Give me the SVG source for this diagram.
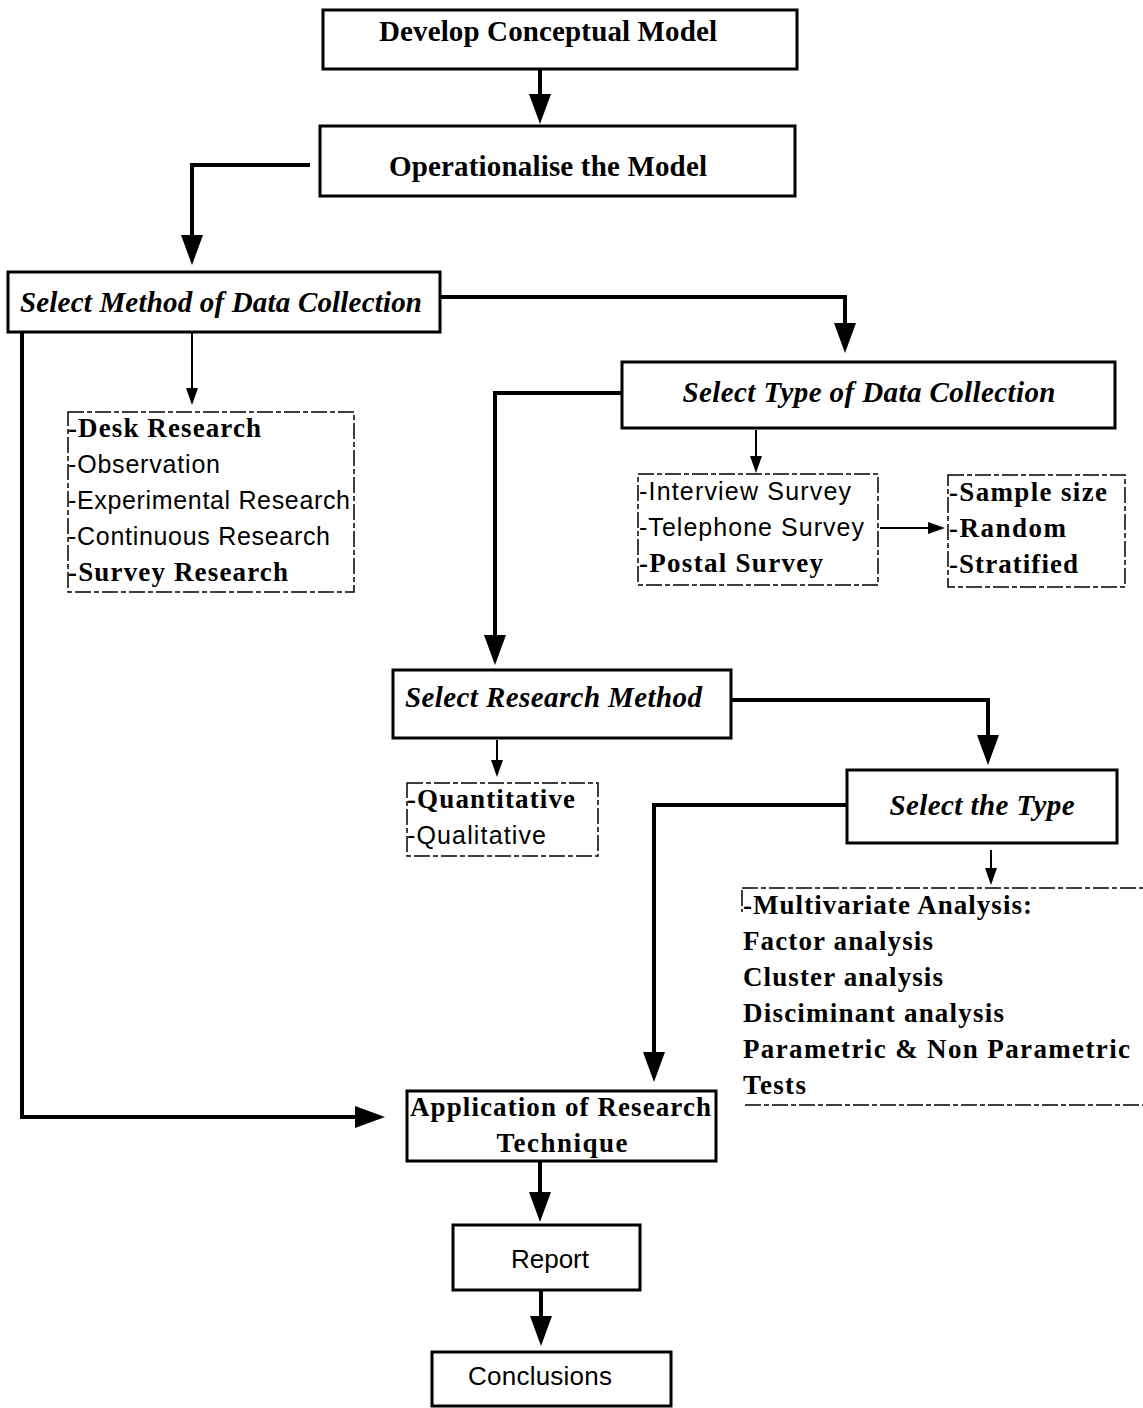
<svg xmlns="http://www.w3.org/2000/svg" width="1143" height="1408" viewBox="0 0 1143 1408">
  <style>
    .box { fill: #fff; stroke: #000; stroke-width: 3; }
    .dbox { fill: none; stroke: #000; stroke-width: 1.5; stroke-dasharray: 16 3 5 3; }
    .line { fill: none; stroke: #000; stroke-width: 4; stroke-linejoin: miter; }
    .thin { fill: none; stroke: #000; stroke-width: 2; }
    .head { font-family: "Liberation Serif", "Times New Roman", serif; font-weight: bold; font-size: 29px; fill: #000; }
    .ital { font-family: "Liberation Serif", "Times New Roman", serif; font-weight: bold; font-style: italic; font-size: 29px; fill: #000; }
    .sb { font-family: "Liberation Serif", "Times New Roman", serif; font-weight: bold; font-size: 27px; fill: #000; }
    .ss { font-family: "Liberation Sans", Arial, sans-serif; font-size: 25px; fill: #000; }
    .plain { font-family: "Liberation Sans", Arial, sans-serif; font-size: 26px; fill: #000; }
  </style>
  <defs>
    <marker id="big" markerUnits="userSpaceOnUse" markerWidth="32" markerHeight="24" viewBox="0 -12 32 24" refX="0" refY="0" orient="auto">
      <path d="M0,-11 L30,0 L0,11 Z" fill="#000"/>
    </marker>
    <marker id="small" markerUnits="userSpaceOnUse" markerWidth="20" markerHeight="14" viewBox="0 -7 20 14" refX="0" refY="0" orient="auto">
      <path d="M0,-6 L17,0 L0,6 Z" fill="#000"/>
    </marker>
  </defs>

  <rect width="1143" height="1408" fill="#fff"/>

  <!-- connectors -->
  <g id="connectors">
    <path class="line" d="M540,69 V94" marker-end="url(#big)"/>
    <path class="line" d="M310,165 H192 V235" marker-end="url(#big)"/>
    <path class="line" d="M440,297 H845 V323" marker-end="url(#big)"/>
    <path class="line" d="M22,332 V1117 H355" marker-end="url(#big)"/>
    <path class="thin" d="M192,332 V388" marker-end="url(#small)"/>
    <path class="line" d="M622,393 H495 V635" marker-end="url(#big)"/>
    <path class="thin" d="M756,430 V456" marker-end="url(#small)"/>
    <path class="thin" d="M880,528 H928" marker-end="url(#small)"/>
    <path class="line" d="M731,700 H988 V735" marker-end="url(#big)"/>
    <path class="thin" d="M497,740 V760" marker-end="url(#small)"/>
    <path class="line" d="M847,805 H654 V1052" marker-end="url(#big)"/>
    <path class="thin" d="M991,850 V868" marker-end="url(#small)"/>
    <path class="line" d="M540,1161 V1192" marker-end="url(#big)"/>
    <path class="line" d="M541,1290 V1316" marker-end="url(#big)"/>
  </g>

  <!-- process boxes -->
  <g id="develop-model">
    <rect class="box" x="323" y="10" width="474" height="59"/>
    <text class="head" x="548" y="41" text-anchor="middle" textLength="338">Develop Conceptual Model</text>
  </g>
  <g id="operationalise">
    <rect class="box" x="320" y="126" width="475" height="70"/>
    <text class="head" x="548" y="176" text-anchor="middle" textLength="318">Operationalise the Model</text>
  </g>
  <g id="select-method">
    <rect class="box" x="8" y="272" width="432" height="60"/>
    <text class="ital" x="20" y="312" textLength="402">Select Method of Data Collection</text>
  </g>
  <g id="methods-list">
    <rect class="dbox" x="68" y="412" width="286" height="180"/>
    <text class="sb" x="68" y="437" textLength="193">-Desk Research</text>
    <text class="ss" x="68" y="473" textLength="152">-Observation</text>
    <text class="ss" x="68" y="509" textLength="282">-Experimental Research</text>
    <text class="ss" x="68" y="545" textLength="262">-Continuous Research</text>
    <text class="sb" x="68" y="581" textLength="220">-Survey Research</text>
  </g>
  <g id="select-type-collection">
    <rect class="box" x="622" y="362" width="493" height="66"/>
    <text class="ital" x="869" y="402" text-anchor="middle" textLength="373">Select Type of Data Collection</text>
  </g>
  <g id="survey-list">
    <rect class="dbox" x="638" y="474" width="240" height="111"/>
    <text class="ss" x="639" y="500" textLength="212">-Interview Survey</text>
    <text class="ss" x="639" y="536" textLength="225">-Telephone Survey</text>
    <text class="sb" x="639" y="572" textLength="184">-Postal Survey</text>
  </g>
  <g id="sampling-list">
    <rect class="dbox" x="948" y="475" width="177" height="112"/>
    <text class="sb" x="949" y="501" textLength="158">-Sample size</text>
    <text class="sb" x="949" y="537" textLength="117">-Random</text>
    <text class="sb" x="949" y="573" textLength="129">-Stratified</text>
  </g>
  <g id="select-research-method">
    <rect class="box" x="393" y="670" width="338" height="68"/>
    <text class="ital" x="405" y="707" textLength="297">Select Research Method</text>
  </g>
  <g id="method-kind-list">
    <rect class="dbox" x="407" y="783" width="191" height="73"/>
    <text class="sb" x="407" y="808" textLength="168">-Quantitative</text>
    <text class="ss" x="407" y="844" textLength="139">-Qualitative</text>
  </g>
  <g id="select-the-type">
    <rect class="box" x="847" y="770" width="270" height="73"/>
    <text class="ital" x="982" y="815" text-anchor="middle" textLength="185">Select the Type</text>
  </g>
  <g id="analysis-list">
    <path class="dbox" d="M742,888 H1143 M745,1105 H1143 M742,890 V912"/>
    <text class="sb" x="743" y="914" textLength="289">-Multivariate Analysis:</text>
    <text class="sb" x="743" y="950" textLength="190">Factor analysis</text>
    <text class="sb" x="743" y="986" textLength="200">Cluster analysis</text>
    <text class="sb" x="743" y="1022" textLength="261">Disciminant analysis</text>
    <text class="sb" x="743" y="1058" textLength="387">Parametric &amp; Non Parametric</text>
    <text class="sb" x="743" y="1094" textLength="63">Tests</text>
  </g>
  <g id="application">
    <rect class="box" x="407" y="1091" width="309" height="70"/>
    <text class="sb" x="410" y="1116" textLength="301">Application of Research</text>
    <text class="sb" x="562" y="1152" text-anchor="middle" textLength="131">Technique</text>
  </g>
  <g id="report">
    <rect class="box" x="453" y="1225" width="187" height="65"/>
    <text class="plain" x="550" y="1268" text-anchor="middle" textLength="78">Report</text>
  </g>
  <g id="conclusions">
    <rect class="box" x="432" y="1352" width="239" height="54"/>
    <text class="plain" x="540" y="1385" text-anchor="middle" textLength="144">Conclusions</text>
  </g>
</svg>
